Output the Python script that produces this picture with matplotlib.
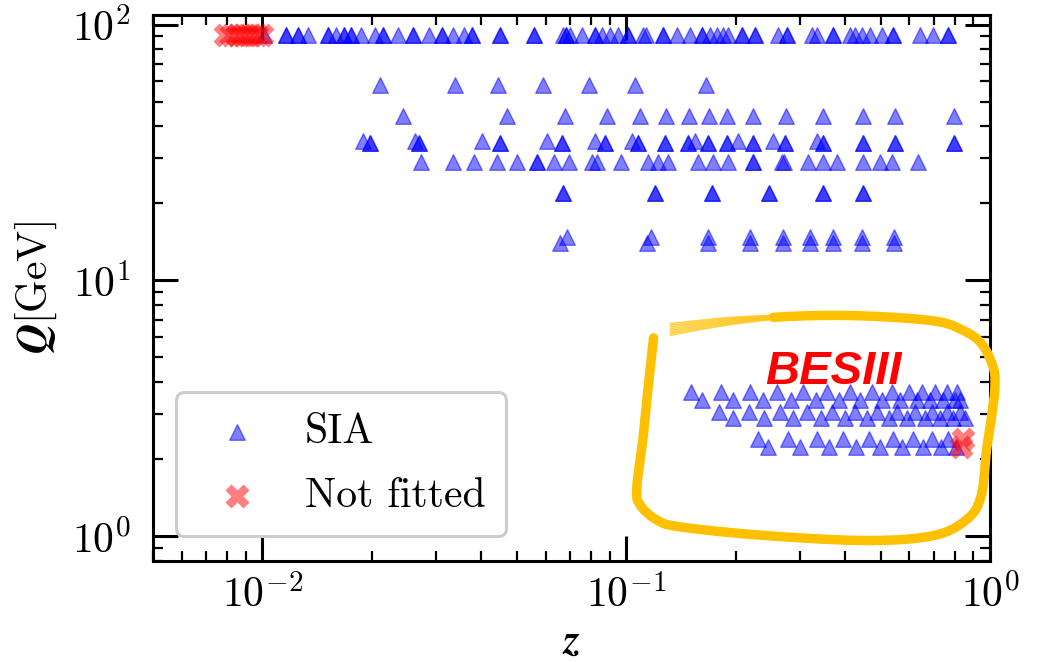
import numpy as np
import matplotlib
matplotlib.use("Agg")
import matplotlib.pyplot as plt

plt.rcParams["font.family"] = "serif"
plt.rcParams["font.serif"] = ["cmr10"]
plt.rcParams["mathtext.fontset"] = "cm"
plt.rcParams["axes.unicode_minus"] = False

# z values of the SIA points, grouped by centre-of-mass energy Q [GeV]
# (repeated entries are overlapping points from different experiments)
z_q912 = [0.0101, 0.0116, 0.0116, 0.0125, 0.0125, 0.0133, 0.0151, 0.0151,
          0.0159, 0.0167, 0.0167, 0.0175, 0.0175, 0.0186, 0.0204, 0.0214,
          0.0214, 0.0236, 0.0260, 0.0260, 0.0286, 0.0312, 0.0312, 0.0335,
          0.0357, 0.0377, 0.0377, 0.0451, 0.0451, 0.0556, 0.0556, 0.0668,
          0.0681, 0.0681, 0.0702, 0.0757, 0.0822, 0.0822, 0.0859, 0.0904,
          0.0951, 0.101, 0.101, 0.111, 0.113, 0.126, 0.126, 0.138, 0.150,
          0.162, 0.162, 0.170, 0.178, 0.185, 0.191, 0.208, 0.208, 0.226,
          0.226, 0.262, 0.277, 0.277, 0.324, 0.335, 0.371, 0.371, 0.412,
          0.426, 0.445, 0.468, 0.505, 0.541, 0.541, 0.642, 0.697, 0.767,
          0.767]
z_q58 = [0.0210, 0.0339, 0.0445, 0.0591, 0.0791, 0.106, 0.166]
z_q44 = [0.0244, 0.0471, 0.0680, 0.0887, 0.109, 0.129, 0.149, 0.169, 0.189,
         0.223, 0.275, 0.348, 0.448, 0.548, 0.796]
z_q35 = [0.0189, 0.0263, 0.0402, 0.0607, 0.0822, 0.104, 0.155, 0.203, 0.253,
         0.335]
z_q344 = [0.0198, 0.0270, 0.0451, 0.0667, 0.0875, 0.108, 0.128, 0.148, 0.168,
          0.189, 0.223, 0.273, 0.348, 0.448, 0.548, 0.796]
z_q29 = [0.0272, 0.0333, 0.0382, 0.0442, 0.0502, 0.0570, 0.0570, 0.0634,
         0.0697, 0.0807, 0.0832, 0.0969, 0.115, 0.122, 0.130, 0.157, 0.173,
         0.191, 0.223, 0.223, 0.268, 0.272, 0.316, 0.348, 0.380, 0.448,
         0.499, 0.538, 0.634]
z_q22 = [0.0669, 0.120, 0.172, 0.247, 0.348, 0.448]
z_q148 = [0.0688, 0.117, 0.168, 0.219, 0.270, 0.320, 0.370, 0.445, 0.545]
z_q14 = [0.0659, 0.114, 0.168, 0.219, 0.270, 0.320, 0.370, 0.445, 0.545]

# BESIII energies
z_q3671 = [0.151, 0.182, 0.219, 0.260, 0.306, 0.356, 0.412, 0.473, 0.537,
           0.600, 0.652, 0.706, 0.760, 0.810]
z_q34 = [0.162, 0.197, 0.238, 0.284, 0.332, 0.385, 0.439, 0.504, 0.566,
         0.629, 0.684, 0.741, 0.801, 0.828]
z_q305 = [0.180, 0.218, 0.265, 0.314, 0.367, 0.426, 0.488, 0.554, 0.622,
          0.691, 0.760, 0.828]
z_q29b = [0.196, 0.239, 0.288, 0.343, 0.400, 0.460, 0.526, 0.593, 0.663,
          0.729, 0.793, 0.854]
z_q24 = [0.230, 0.278, 0.334, 0.395, 0.466, 0.541, 0.613, 0.691, 0.768]
z_q22324 = [0.246, 0.301, 0.362, 0.428, 0.499, 0.572, 0.653, 0.732, 0.807]

sia_sets = [
    (91.2, z_q912), (58.0, z_q58), (44.0, z_q44), (35.0, z_q35),
    (34.4, z_q344), (34.4, z_q344), (29.0, z_q29), (22.0, z_q22),
    (22.0, z_q22), (14.8, z_q148), (14.0, z_q14),
    (3.671, z_q3671), (3.4, z_q34), (3.05, z_q305), (2.9, z_q29b),
    (2.4, z_q24), (2.2324, z_q22324),
]

# points excluded from the fit
nf_z = [0.00787, 0.00817, 0.00849, 0.00876, 0.00905, 0.00934, 0.00964,
        0.0100, 0.845, 0.830]
nf_q = [91.2, 91.2, 91.2, 91.2, 91.2, 91.2, 91.2, 91.2, 2.4, 2.2324]

x_ticks = [0.01, 0.1, 1.0]
x_labels = [r"$10^{-2}$", r"$10^{-1}$", r"$10^{0}$"]
y_ticks = [1.0, 10.0, 100.0]
y_labels = [r"$\mathbf{10^{0}}$", r"$\mathbf{10^{1}}$", r"$\mathbf{10^{2}}$"]

# hand-drawn outline around the BESIII region (axes fraction)
loop_x = [0.598, 0.592, 0.586, 0.578, 0.582, 0.602, 0.6305, 0.731, 0.8525,
          0.933, 0.9735, 0.9897, 0.9957, 1.0018, 1.0059, 1.0036, 0.9892,
          0.9654, 0.933, 0.8525, 0.7718, 0.6906, 0.6183]
loop_y = [0.4085, 0.3251, 0.2326, 0.1337, 0.1026, 0.0751, 0.0623, 0.0467,
          0.0375, 0.0467, 0.0777, 0.1209, 0.2015, 0.2637, 0.3187, 0.356,
          0.3993, 0.4242, 0.4396, 0.4487, 0.4487, 0.4396, 0.4242]


def catmull_rom(xs, ys, n=24):
    pts = np.column_stack([xs, ys])
    pts = np.vstack([pts[0], pts, pts[-1]])
    t = np.linspace(0, 1, n, endpoint=False)[:, None]
    out = []
    for i in range(1, len(pts) - 2):
        p0, p1, p2, p3 = pts[i - 1], pts[i], pts[i + 1], pts[i + 2]
        seg = 0.5 * ((2 * p1) + (-p0 + p2) * t
                     + (2 * p0 - 5 * p1 + 4 * p2 - p3) * t ** 2
                     + (-p0 + 3 * p1 - 3 * p2 + p3) * t ** 3)
        out.append(seg)
    out.append(pts[-2][None, :])
    return np.vstack(out)


sia_z = np.concatenate([np.asarray(z) for _, z in sia_sets])
sia_q = np.concatenate([np.full(len(z), q) for q, z in sia_sets])

fig = plt.figure(figsize=(10.39, 6.62), dpi=100)
ax = fig.add_axes([153 / 1039, 101 / 662, 837 / 1039, 546 / 662])

ax.scatter(sia_z, sia_q, marker="^", s=125, color="blue", alpha=0.5,
           linewidths=1.0, label="SIA", zorder=3)
ax.scatter(nf_z, nf_q, marker="X", s=300, color="red", alpha=0.5,
           linewidths=0.0, label="Not fitted", zorder=4)

ax.set_xscale("log")
ax.set_yscale("log")
ax.set_xlim(0.005, 1.0)
ax.set_ylim(0.8, 109)

ax.set_xticks(x_ticks, labels=x_labels)
ax.set_yticks(y_ticks, labels=y_labels)
ax.xaxis.set_minor_formatter(matplotlib.ticker.NullFormatter())
ax.yaxis.set_minor_formatter(matplotlib.ticker.NullFormatter())

ax.tick_params(which="both", direction="in", top=True, right=True)
ax.tick_params(which="major", length=18, width=2.2, labelsize=30)
ax.tick_params(which="minor", length=7, width=1.6)
ax.tick_params(axis="x", which="major", pad=10)
ax.tick_params(axis="y", which="major", pad=16)
for spine in ax.spines.values():
    spine.set_linewidth(2.2)

ax.set_xlabel(r"$\boldsymbol{z}$", fontsize=30)
ax.set_ylabel(r"$\boldsymbol{Q}[\mathrm{GeV}]$", fontsize=30)
ax.xaxis.set_label_coords(0.5, -0.115)
ax.yaxis.set_label_coords(-0.112, 0.5)

leg = ax.legend(loc="lower left", bbox_to_anchor=(0.0275, 0.046),
                borderaxespad=0, fontsize=30, scatterpoints=1,
                handlelength=1.93, handletextpad=0.66, borderpad=0.5,
                labelspacing=0.65, fancybox=True, framealpha=1.0)
leg.get_frame().set_edgecolor("#cccccc")
leg.get_frame().set_linewidth(2.2)

# outline: thick stroke, then a frayed brush tail at the end
curve = catmull_rom(loop_x, loop_y)
split = int(len(curve) * 0.925)
ax.plot(curve[:split + 1, 0], curve[:split + 1, 1], color="#ffc000", lw=6.8,
        solid_capstyle="round", transform=ax.transAxes, clip_on=False,
        zorder=5)
tail = curve[split:]
fan = np.linspace(0.0, 1.0, len(tail))
for off in np.linspace(-0.011, 0.011, 8):
    ax.plot(tail[:, 0], tail[:, 1] + off * (0.35 + 0.65 * fan),
            color="#ffc000", lw=1.1, alpha=0.7,
            transform=ax.transAxes, clip_on=False, zorder=5)

ax.text(0.8124, 0.346, "BESIII", transform=ax.transAxes, color="red",
        fontsize=34, fontweight="bold", fontstyle="italic",
        family="Liberation Sans", ha="center", va="center", zorder=6)

fig.savefig("out.png", dpi=100)
